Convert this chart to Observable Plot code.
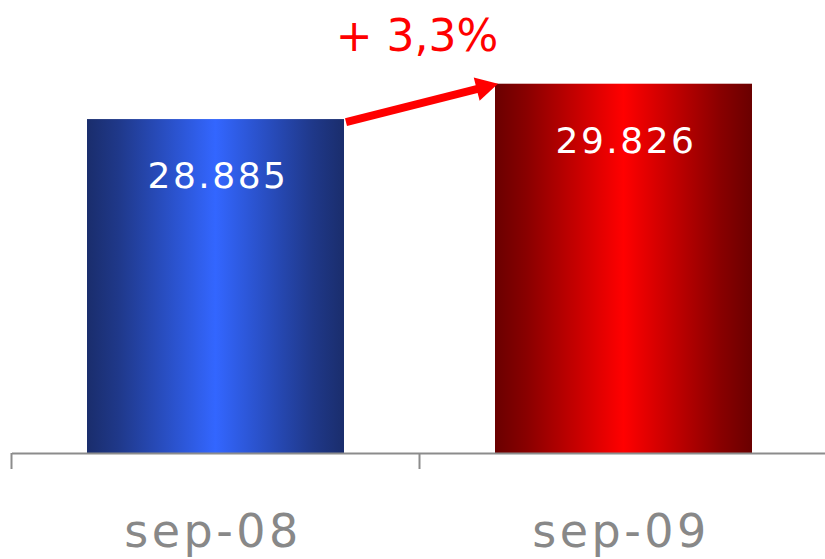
<!DOCTYPE html>
<html>
<head>
<meta charset="utf-8">
<script src="https://cdn.jsdelivr.net/npm/d3@7"></script>
<script src="https://cdn.jsdelivr.net/npm/@observablehq/plot@0.6"></script>
<style>
  html, body { margin: 0; padding: 0; background: #ffffff; }
  #chart { width: 825px; height: 559px; overflow: hidden; }
</style>
</head>
<body>
<div id="chart"></div>
<script>
// Periods and totals
const months = ["sep-08", "sep-09"];
const totals = [28885, 29826];
// Bar gradients: edge colour and centre colour for each period
const edgeColors = ["#1a2d6c", "#6a0000"];
const centerColors = ["#3366ff", "#ff0000"];

const rows = months.map((m, i) => ({month: m, total: totals[i]}));

const locale = d3.formatLocale({decimal: ",", thousands: ".", grouping: [3], currency: ["", "€"]});
const fmtInt = locale.format(",d");
const fmtPct = locale.format(".1f");

const W = 825, H = 559;

// Gradient definitions rendered inside the chart's SVG
const gradientDefs = () => {
  const defs = d3.create("svg:defs");
  months.forEach((m, i) => {
    const g = defs.append("linearGradient")
      .attr("id", "grad-" + i)
      .attr("x1", "0%").attr("x2", "100%").attr("y1", "0%").attr("y2", "0%");
    const mid = d3.interpolateRgb(edgeColors[i], centerColors[i]);
    g.append("stop").attr("offset", "0%").attr("stop-color", edgeColors[i]);
    g.append("stop").attr("offset", "12%").attr("stop-color", mid(0.2));
    g.append("stop").attr("offset", "50%").attr("stop-color", centerColors[i]);
    g.append("stop").attr("offset", "88%").attr("stop-color", mid(0.2));
    g.append("stop").attr("offset", "100%").attr("stop-color", edgeColors[i]);
  });
  return defs.node();
};

const chart = Plot.plot({
  width: W,
  height: H,
  marginLeft: 12,
  marginRight: 0,
  marginTop: 2,
  marginBottom: 106,
  style: {background: "#ffffff", fontFamily: "'DejaVu Sans', sans-serif"},
  x: {domain: months, range: [12, 828], paddingInner: 0.37, paddingOuter: 0.185, axis: null},
  y: {domain: [20000, 32000], axis: null},
  color: {domain: months, range: months.map((m, i) => `url(#grad-${i})`)},
  marks: [
    gradientDefs,
    Plot.barY(rows, {x: "month", y1: 20000, y2: "total", fill: "month"}),
    Plot.ruleY([20000], {stroke: "#8c8c8c", strokeWidth: 2}),
    Plot.text(rows, {
      x: "month", y: "total", text: d => fmtInt(d.total),
      dy: 57, dx: 2, fill: "#ffffff", fontSize: 36, lineAnchor: "middle"
    }),
    Plot.text(months, {
      x: d => d, y: 20000, text: d => d,
      dy: 79, dx: -3, fill: "#888888", fontSize: 46, lineAnchor: "middle"
    })
  ]
});

document.getElementById("chart").appendChild(chart);

const svg = d3.select(chart);
// Letter spacing for the value labels and the period labels
svg.selectAll("text").each(function () {
  const fs = this.getAttribute("font-size") || (this.parentNode && this.parentNode.getAttribute && this.parentNode.getAttribute("font-size"));
  if (fs === "36") this.style.letterSpacing = "2.5px";
  if (fs === "46") this.style.letterSpacing = "3.5px";
});

const xs = chart.scale("x");
const ys = chart.scale("y");
const gap = (xs.step - xs.bandwidth) / 2;
const base = ys.apply(20000);

// Tick marks on the category boundaries
const ticks = svg.append("g").attr("stroke", "#8c8c8c").attr("stroke-width", 2);
months.forEach(m => {
  const bx = xs.apply(m) - gap;
  ticks.append("line").attr("x1", bx).attr("x2", bx).attr("y1", base).attr("y2", base + 16);
});

// Growth arrow from the first bar's top to the second bar's top
const x0 = xs.apply(months[0]) + xs.bandwidth + 2;
const y0 = ys.apply(totals[0]) + 3;
const x1 = xs.apply(months[1]) + 3;
const y1 = ys.apply(totals[1]);
const ang = Math.atan2(y1 - y0, x1 - x0);
const headLen = 22, headHalf = 12;
const bx = x1 - headLen * Math.cos(ang), by = y1 - headLen * Math.sin(ang);
const px = -Math.sin(ang), py = Math.cos(ang);
const arrow = svg.append("g").attr("fill", "#ff0000").attr("stroke", "#ff0000");
arrow.append("line")
  .attr("x1", x0).attr("y1", y0)
  .attr("x2", bx + 2 * Math.cos(ang)).attr("y2", by + 2 * Math.sin(ang))
  .attr("stroke-width", 8);
arrow.append("polygon")
  .attr("stroke", "none")
  .attr("points", [
    [x1, y1],
    [bx + px * headHalf, by + py * headHalf],
    [bx - px * headHalf, by - py * headHalf]
  ].map(p => p.join(",")).join(" "));

// Percentage growth label above the arrow
const growth = (totals[1] / totals[0] - 1) * 100;
svg.append("text")
  .attr("x", (x0 + x1) / 2 - 5)
  .attr("y", y1 - 33)
  .attr("text-anchor", "middle")
  .attr("fill", "#ff0000")
  .attr("font-size", 44)
  .attr("font-family", "'DejaVu Sans', sans-serif")
  .text("+ " + fmtPct(growth) + "%");
</script>
</body>
</html>
